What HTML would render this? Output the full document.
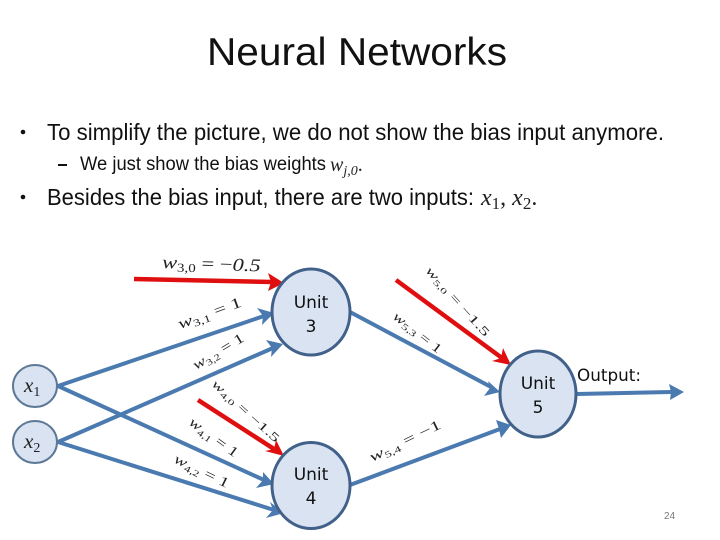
<!DOCTYPE html>
<html><head><meta charset="utf-8"><style>
html,body{margin:0;padding:0;background:#fff}
svg{display:block}
.s{font-family:"Liberation Sans",sans-serif;fill:#111}
.m{font-family:"Liberation Serif",serif;font-style:italic;fill:#222}
.u{font-family:"DejaVu Sans",sans-serif;fill:#111;font-size:17px;text-anchor:middle}
.b{stroke:#4a7ab0;stroke-width:4;fill:none}
.bh{fill:#4a7ab0}
.r{stroke:#e00f0f;stroke-width:4.5;fill:none}
.rh{fill:#e00f0f}
.n{fill:#d9e3f1;stroke:#41608a;stroke-width:3}
.i{fill:#d9e3f1;stroke:#5d7896;stroke-width:2}
</style></head><body>
<svg width="720" height="540" viewBox="0 0 720 540" xmlns="http://www.w3.org/2000/svg">
<text class="s" x="207" y="65" font-size="39" textLength="300" lengthAdjust="spacingAndGlyphs">Neural Networks</text>
<circle cx="23" cy="132" r="2.3" fill="#111"/>
<text class="s" x="47" y="140" font-size="23" textLength="617" lengthAdjust="spacingAndGlyphs">To simplify the picture, we do not show the bias input anymore.</text>
<rect x="58" y="164" width="9" height="2" fill="#111"/>
<text class="s" x="80" y="170" font-size="19" textLength="246" lengthAdjust="spacingAndGlyphs">We just show the bias weights</text>
<text class="m" x="330" y="171" font-size="20">w<tspan font-size="14" dy="4">j,0</tspan><tspan dy="-4" font-style="normal">.</tspan></text>
<circle cx="23" cy="197" r="2.3" fill="#111"/>
<text class="s" x="47" y="205" font-size="23" textLength="427" lengthAdjust="spacingAndGlyphs">Besides the bias input, there are two inputs:</text>
<text class="m" x="481" y="205" font-size="24">x<tspan font-size="17" dy="4" font-style="normal">1</tspan><tspan dy="-4" font-style="normal">, </tspan>x<tspan font-size="17" dy="4" font-style="normal">2</tspan><tspan dy="-4" font-style="normal">.</tspan></text>

<path class="r" d="M134 279L272 282"/><polygon class="rh" points="284,283 268,273 271,282 268,291"/>
<path class="r" d="M198 400L274 449"/><polygon class="rh" points="284,456 276,440 274,449 265,451"/>
<path class="r" d="M396 280L502 358"/><polygon class="rh" points="511,365 503,348 501,358 492,361"/>

<path class="b" d="M58 386L264 316"/><polygon class="bh" points="274,313 257,308 263,316 262,325"/>
<path class="b" d="M58 442L273 348"/><polygon class="bh" points="283,344 266,340 272,348 271,357"/>
<path class="b" d="M58 386L264 480"/><polygon class="bh" points="274,484 263,472 263,480 256,488"/>
<path class="b" d="M58 442L274 510"/><polygon class="bh" points="284,513 270,502 273,510 266,518"/>
<path class="b" d="M350 312L491 387"/><polygon class="bh" points="500,392 488,381 490,388 484,396"/>
<path class="b" d="M350 485L500 429"/><polygon class="bh" points="511,425 496,420 499,429 501,438"/>
<path class="b" d="M577 394L671 392"/><polygon class="bh" points="684,392 669,384 671,392 670,400"/>

<ellipse class="n" cx="311" cy="312" rx="39" ry="43"/>
<ellipse class="n" cx="311" cy="485.5" rx="39" ry="43"/>
<ellipse class="n" cx="538" cy="394" rx="38" ry="43"/>
<ellipse class="i" cx="35" cy="386" rx="22" ry="21"/>
<ellipse class="i" cx="35" cy="442" rx="22" ry="21"/>

<text class="u" x="311" y="308">Unit</text><text class="u" x="311" y="332">3</text>
<text class="u" x="311" y="480">Unit</text><text class="u" x="311" y="504">4</text>
<text class="u" x="538" y="389">Unit</text><text class="u" x="538" y="413">5</text>
<text class="u" x="609" y="381" textLength="64" lengthAdjust="spacingAndGlyphs">Output:</text>
<text class="m" x="24" y="392" font-size="21">x<tspan font-size="14" dy="4" font-style="normal">1</tspan></text>
<text class="m" x="24" y="448" font-size="21">x<tspan font-size="14" dy="4" font-style="normal">2</tspan></text>

<text class="m" font-size="18" transform="translate(162,268) rotate(2) scale(1.25,1)">w<tspan font-size="12" dy="3" font-style="normal">3,0</tspan><tspan dy="-3" font-style="normal"> = −</tspan>0.5</text>
<text class="m" font-size="15" transform="translate(180,329) rotate(-20) scale(1.45,1)">w<tspan font-size="10" dy="3" font-style="normal">3,1</tspan><tspan dy="-3" font-style="normal"> = 1</tspan></text>
<text class="m" font-size="14" transform="translate(196,370) rotate(-31) scale(1.35,1)">w<tspan font-size="9" dy="3" font-style="normal">3,2</tspan><tspan dy="-3" font-style="normal"> = 1</tspan></text>
<text class="m" font-size="12" transform="translate(211,385) rotate(42) scale(1.65,1)">w<tspan font-size="8" dy="2" font-style="normal">4,0</tspan><tspan dy="-2" font-style="normal">  =  −1.5</tspan></text>
<text class="m" font-size="14" transform="translate(188,424) rotate(36) scale(1.35,1)">w<tspan font-size="9" dy="3" font-style="normal">4,1</tspan><tspan dy="-3" font-style="normal">  =  1</tspan></text>
<text class="m" font-size="14" transform="translate(173,462) rotate(26) scale(1.4,1)">w<tspan font-size="9" dy="3" font-style="normal">4,2</tspan><tspan dy="-3" font-style="normal">  =  1</tspan></text>
<text class="m" font-size="12" transform="translate(425,271) rotate(48) scale(1.7,1)">w<tspan font-size="8" dy="2" font-style="normal">5,0</tspan><tspan dy="-2" font-style="normal">  =  −1.5</tspan></text>
<text class="m" font-size="13" transform="translate(392,318) rotate(38) scale(1.45,1)">w<tspan font-size="9" dy="2" font-style="normal">5,3</tspan><tspan dy="-2" font-style="normal">  =  1</tspan></text>
<text class="m" font-size="14" transform="translate(372,462) rotate(-26) scale(1.55,1)">w<tspan font-size="9" dy="3" font-style="normal">5,4</tspan><tspan dy="-3" font-style="normal">  =  −1</tspan></text>

<text x="664" y="519" font-family="Liberation Sans,sans-serif" font-size="10" fill="#777">24</text>
</svg>
</body></html>
